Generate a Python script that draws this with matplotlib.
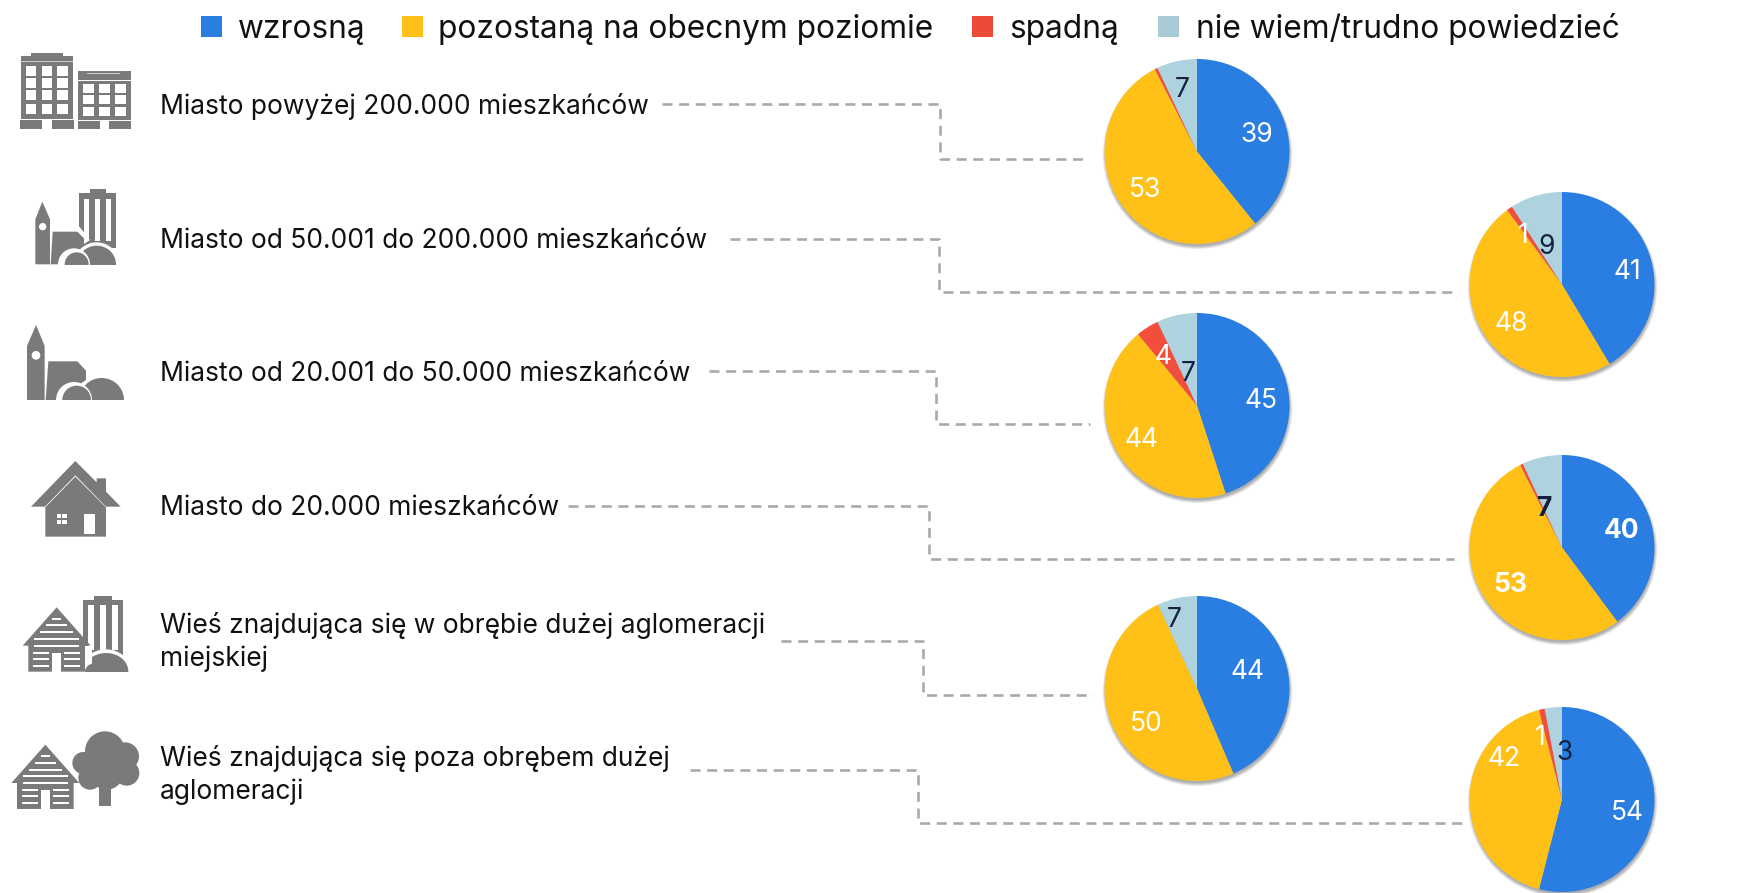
import matplotlib
matplotlib.use('Agg')
import matplotlib.pyplot as plt
from matplotlib.patches import Rectangle, Polygon, Circle, Ellipse

# Data
categories = ['wzrosną', 'pozostaną na obecnym poziomie', 'spadną', 'nie wiem/trudno powiedzieć']
rows = ['Miasto powyżej 200.000 mieszkańców',
        'Miasto od 50.001 do 200.000 mieszkańców',
        'Miasto od 20.001 do 50.000 mieszkańców',
        'Miasto do 20.000 mieszkańców',
        'Wieś znajdująca się w obrębie dużej aglomeracji\nmiejskiej',
        'Wieś znajdująca się poza obrębem dużej\naglomeracji']
wzrosna = [39, 41, 45, 40, 44, 54]
pozostana = [53, 48, 44, 53, 50, 42]
spadna = [0.5, 1, 4, 0.5, 0, 1]
nie_wiem = [7, 9, 7, 7, 7, 3]
# printed labels, None where the chart has no label
spadna_labels = [None, '1', '4', None, None, '1']

# Layout in pixels of the 1740x893 picture
W, H = 1740, 893
colors = ['#2a7de1', '#ffc017', '#f24e3e', '#aed2de']
legend_colors = ['#2a7de1', '#ffc017', '#ee4a3a', '#a9cbd5']
FONT = 'Inter'
GREY = '#7a7a7a'
pie_centers = [(1197, 151.5), (1562, 284.5), (1197, 405.5), (1562, 547.5), (1197, 688.5), (1562, 799.5)]
PIE_R = 92.5
# label centres per pie: wzrosna, pozostana, spadna, nie wiem
label_pos = [
    [(1257, 132), (1145, 187), None, (1182, 87)],
    [(1627, 269), (1511, 321), (1523, 233), (1547, 244)],
    [(1261, 398), (1142, 437), (1163, 354), (1188, 371)],
    [(1622, 528), (1510, 582), None, (1545, 506)],
    [(1248, 669), (1146, 721), None, (1174, 617)],
    [(1627, 810), (1504, 756), (1540, 735), (1565, 750)],
]
text_y = [106, 241, 374, 508, 642, 775]
connectors = [
    (662, 940, 104, 159, 1087),
    (730, 939, 239, 292, 1454),
    (709, 936, 371, 424, 1090),
    (568, 929, 506, 559, 1454),
    (781, 923, 641, 695, 1093),
    (690, 918, 770, 823, 1462),
]
legend_box_x = [201, 402, 972, 1158]
legend_text_x = [238, 438, 1009, 1196]

fig = plt.figure(figsize=(W / 100, H / 100), dpi=100)

# Overlay in pixel coordinates
ov = fig.add_axes([0, 0, 1, 1], zorder=5)
ov.set_xlim(0, W)
ov.set_ylim(H, 0)
ov.axis('off')
ov.patch.set_alpha(0)

# Pies
for i in range(6):
    cx, cy = pie_centers[i]
    m = 1.25
    size = PIE_R * 2 * m
    ax = fig.add_axes([(cx - size / 2) / W, 1 - (cy + size / 2) / H, size / W, size / H], zorder=2)
    # soft shadow under the pie
    for k in range(7):
        ax.add_patch(Circle((0.006, -0.03), 0.99 + k * 0.006, color='black', alpha=0.05, lw=0, zorder=0))
    vals = [wzrosna[i], pozostana[i], spadna[i], nie_wiem[i]]
    ax.pie(vals, colors=colors, startangle=90, counterclock=False, radius=1,
           wedgeprops={'linewidth': 0, 'zorder': 2})
    ax.set_xlim(-m, m)
    ax.set_ylim(-m, m)
    texts = [str(wzrosna[i]), str(pozostana[i]), spadna_labels[i], str(nie_wiem[i])]
    tcolors = ['white', 'white', 'white', '#14203f']
    for t, c, p in zip(texts, tcolors, label_pos[i]):
        if t is None:
            continue
        ov.text(p[0], p[1], t, color=c, fontsize=19, family=FONT, ha='center', va='center_baseline',
                fontweight='bold' if i == 3 else 'normal')

# Legend
for x, tx, c, name in zip(legend_box_x, legend_text_x, legend_colors, categories):
    ov.add_patch(Rectangle((x, 16), 21, 21, color=c, lw=0))
    ov.text(tx, 38, name, fontsize=22.8, family=FONT, color='#111111', ha='left', va='baseline')

# Row labels
for y, r in zip(text_y, rows):
    ov.text(160, y, r, fontsize=19, family=FONT, color='#111111', ha='left', va='center', linespacing=1.3)

# Dashed connectors
for x0, x1, y0, y1, x2 in connectors:
    ov.plot([x0, x1, x1, x2], [y0, y0, y1, y1], color='#aaaaaa', lw=1.9, dashes=(3.8, 2.5))


# Icons, coordinates are pixels of a 3x crop with a given origin
def rect(o, x0, y0, x1, y1, c=GREY):
    ov.add_patch(Rectangle((o[0] + x0 / 3, o[1] + y0 / 3), (x1 - x0) / 3, (y1 - y0) / 3, color=c, lw=0))


def poly(o, pts, c=GREY):
    ov.add_patch(Polygon([(o[0] + x / 3, o[1] + y / 3) for x, y in pts], color=c, lw=0))


def circ(o, x, y, r, c=GREY):
    ov.add_patch(Circle((o[0] + x / 3, o[1] + y / 3), r / 3, color=c, lw=0))


def ell(o, x, y, rx, ry, c=GREY):
    ov.add_patch(Ellipse((o[0] + x / 3, o[1] + y / 3), 2 * rx / 3, 2 * ry / 3, color=c, lw=0))


def skyscraper(o, x0, x1, top, bottom, dx):
    rect(o, x0, top + 13, x1, bottom)
    rect(o, x0 + dx * 2.2, top, x1 - dx * 2.2, top + 13)
    w = (x1 - x0 - 2 * dx) / 5
    for k in [0, 2, 4]:
        rect(o, x0 + dx + k * w, top + 29, x0 + dx + (k + 1) * w, bottom - 22, 'white')


def log_house(o, ox, oy):
    poly(o, [(ox - 102, oy + 115), (ox, oy), (ox + 102, oy + 115), (ox + 85, oy + 115),
             (ox + 85, oy + 193), (ox - 85, oy + 193), (ox - 85, oy + 115)])
    for dy, hw in [(34, 13), (54, 32), (75, 50), (95, 67), (116, 67)]:
        rect(o, ox - hw, oy + dy - 3, ox + hw, oy + dy + 3, 'white')
    for dy in [136, 155, 175]:
        rect(o, ox - 70, oy + dy - 3, ox - 23, oy + dy + 3, 'white')
        rect(o, ox + 23, oy + dy - 3, ox + 70, oy + dy + 3, 'white')
    rect(o, ox - 14, oy + 136, ox + 14, oy + 195, 'white')


# 1: two blocks
o = (0, 30)
rect(o, 62, 78, 220, 268)
rect(o, 93, 68, 188, 78)
rect(o, 62, 94, 220, 97, '#cccccc')
for wx in [78, 125, 172]:
    for wy, wh in [(108, 29), (144, 29), (180, 29), (222, 29)]:
        rect(o, wx, wy, wx + 31, wy + wh, 'white')
rect(o, 60, 270, 126, 297)
rect(o, 156, 270, 222, 297)
rect(o, 234, 152, 392, 270)
poly(o, [(234, 123), (392, 123), (392, 150), (234, 150)])
rect(o, 262, 128, 360, 131, '#cccccc')
for wx in [250, 297, 345]:
    for wy in [163, 196, 232]:
        rect(o, wx, wy, wx + 32, wy + 25, 'white')
rect(o, 234, 273, 300, 297)
rect(o, 327, 273, 392, 297)

# 2: church with tower block
skyscraper(o, 238, 348, 477, 655, 14)
poly(o, [(225, 590), (238, 590), (270, 630), (225, 660)], 'white')
poly(o, [(152, 703), (158, 605), (232, 605), (252, 625), (252, 650), (180, 703)])
ell(o, 290, 703, 68, 66, 'white')
ell(o, 290, 703, 58, 56)
circ(o, 222, 703, 48, 'white')
circ(o, 230, 703, 36)
rect(o, 170, 704, 360, 760, 'white')
poly(o, [(106, 703), (106, 568), (127, 515), (150, 568), (150, 703)])
circ(o, 128, 590, 11, 'white')

# 3: church
o = (0, 300)
poly(o, [(137, 300), (145, 184), (232, 184), (258, 212), (258, 240), (170, 300)])
ell(o, 305, 300, 67, 66)
circ(o, 222, 300, 54, 'white')
circ(o, 230, 300, 43)
rect(o, 160, 301, 380, 365, 'white')
poly(o, [(81, 300), (81, 138), (108, 75), (134, 138), (134, 300)])
circ(o, 108, 166, 13, 'white')

# 4: house
poly(o, [(93, 620), (226, 483), (290, 547), (290, 535), (318, 535), (318, 575), (362, 620),
         (318, 620), (226, 526), (135, 620)])
poly(o, [(136, 622), (226, 530), (318, 622), (318, 710), (136, 710)])
rect(o, 170, 642, 200, 672, 'white')
rect(o, 183, 642, 187, 672)
rect(o, 170, 655, 200, 659)
rect(o, 253, 642, 286, 703, 'white')

# 5: wooden house with tower block
o = (0, 589)
skyscraper(o, 250, 370, 20, 205, 15)
ell(o, 318, 247, 75, 66, 'white')
ell(o, 318, 247, 67, 55)
rect(o, 240, 248, 395, 320, 'white')
poly(o, [(245, 170), (275, 170), (275, 248), (245, 248)], 'white')
log_house(o, 170, 55)
ell(o, 285, 248, 30, 25)
rect(o, 250, 249, 320, 280, 'white')

# 6: wooden house with tree
o = (0, 588)
log_house(o, 136, 470)
rect(o, 297, 590, 332, 655)
for x, y, r in [(315, 490, 60), (250, 525, 33), (375, 505, 42), (380, 555, 38), (270, 570, 35), (320, 555, 50)]:
    circ(o, x, y, r)

fig.savefig('out.png', dpi=100)
